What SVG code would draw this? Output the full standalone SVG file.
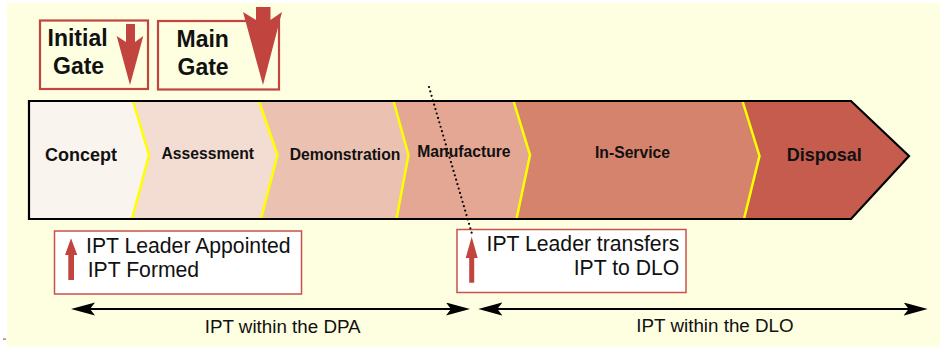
<svg xmlns="http://www.w3.org/2000/svg" width="940" height="347" viewBox="0 0 940 347">
  <defs>
    <style>
      .bold { font-family: "Liberation Sans", Arial, sans-serif; font-weight: bold; fill: #111; }
      .reg { font-family: "Liberation Sans", Arial, sans-serif; fill: #111; }
      .gatebox { fill: none; stroke: #c1443e; stroke-width: 2.2; }
      .notebox { fill: #ffffff; stroke: #c8524c; stroke-width: 1.5; }
      .red { fill: #c1443e; }
      .divider { fill: none; stroke: #ffff00; stroke-width: 2.5; }
      .span { stroke: #000; stroke-width: 2.2; fill: none; }
    </style>
    <marker id="head" markerUnits="userSpaceOnUse" markerWidth="26" markerHeight="14" refX="20" refY="6.5" orient="auto-start-reverse">
      <path d="M0,0 L24,6.5 L0,13 L5,6.5 Z" fill="#000"/>
    </marker>
  </defs>

  <!-- page -->
  <rect x="0" y="0" width="940" height="347" fill="#ffffff"/>
  <rect x="7" y="3" width="933" height="344" fill="#fefee0"/>
  <rect x="3" y="338.5" width="3" height="1.2" fill="#a55a55"/>

  <!-- gates -->
  <g id="initial-gate">
    <rect class="gatebox" x="40" y="20.5" width="108" height="68.5"/>
    <text class="bold" x="47.5" y="45.7" font-size="23">Initial</text>
    <text class="bold" x="53" y="74" font-size="23">Gate</text>
    <polygon class="red" points="126,24 135,24 135,42 143.3,36 130,85 116.7,36 126,42"/>
  </g>
  <g id="main-gate">
    <rect class="gatebox" x="158" y="21" width="121" height="68.5"/>
    <text class="bold" x="176.5" y="47.3" font-size="23">Main</text>
    <text class="bold" x="177.5" y="75" font-size="23">Gate</text>
    <polygon class="red" points="256,7 270.5,7 270.5,20 282,12 263,85 243,12 256,20"/>
  </g>

  <!-- lifecycle phases -->
  <g id="concept">
    <polygon points="29,101 133,101 149,155 132,219 29,219" fill="#faf4ef"/>
    <text class="bold" x="45" y="161" font-size="18">Concept</text>
  </g>
  <g id="assessment">
    <polygon points="133,101 259,101 277.5,155 261,219 132,219 149,155" fill="#f3dcd1"/>
    <text class="bold" x="161.5" y="159" font-size="15.7">Assessment</text>
  </g>
  <g id="demonstration">
    <polygon points="259,101 393.5,101 408.5,155 396.5,219 261,219 277.5,155" fill="#ebc2b1"/>
    <text class="bold" x="289.7" y="159.5" font-size="15.7">Demonstration</text>
  </g>
  <g id="manufacture">
    <polygon points="393.5,101 513.5,101 530,155 516.5,219 396.5,219 408.5,155" fill="#e3a794"/>
    <text class="bold" x="417.3" y="157.3" font-size="15.7">Manufacture</text>
  </g>
  <g id="in-service">
    <polygon points="513.5,101 742.5,101 759.5,156 744,219 516.5,219 530,155" fill="#d5836c"/>
    <text class="bold" x="595" y="158.3" font-size="15.7">In-Service</text>
  </g>
  <g id="disposal">
    <polygon points="742.5,101 851,101 909,156 851,219 744,219 759.5,156" fill="#c55c4e"/>
    <text class="bold" x="786.7" y="160.7" font-size="18">Disposal</text>
  </g>

  <!-- phase boundaries and outline -->
  <g id="phase-outline">
    <polyline class="divider" points="133,101 149,155 132,219"/>
    <polyline class="divider" points="259,101 277.5,155 261,219"/>
    <polyline class="divider" points="393.5,101 408.5,155 396.5,219"/>
    <polyline class="divider" points="513.5,101 530,155 516.5,219"/>
    <polyline class="divider" points="742.5,101 759.5,156 744,219"/>
    <polygon points="29,101 851,101 909,156 851,219 29,219" fill="none" stroke="#000" stroke-width="2.2" stroke-linejoin="miter"/>
  </g>

  <!-- milestone notes -->
  <g id="ipt-formed">
    <rect class="notebox" x="54.5" y="231" width="247" height="63"/>
    <polygon class="red" points="71,238.3 77.3,255 74,255 74,280 68.3,280 68.3,255 65,255"/>
    <text class="reg" x="86" y="252.7" font-size="21.2">IPT Leader Appointed</text>
    <text class="reg" x="87.7" y="277.3" font-size="21.2">IPT Formed</text>
  </g>
  <g id="ipt-transfer">
    <rect class="notebox" x="457" y="229.5" width="229" height="63"/>
    <polygon class="red" points="471.7,236.7 477.7,258 474.2,258 474.2,282.7 469.2,282.7 469.2,258 465.7,258"/>
    <text class="reg" x="679.3" y="250.7" font-size="21.2" text-anchor="end">IPT Leader transfers</text>
    <text class="reg" x="679.3" y="275" font-size="21.2" text-anchor="end">IPT to DLO</text>
  </g>

  <!-- connectors -->
  <g id="connectors">
    <line x1="429" y1="87" x2="472" y2="234" stroke="#000" stroke-width="2.2" stroke-linecap="round" stroke-dasharray="0 4.6"/>
    <line class="span" x1="75" y1="309" x2="466" y2="309" marker-start="url(#head)" marker-end="url(#head)"/>
    <line class="span" x1="482.3" y1="309" x2="923.7" y2="309" marker-start="url(#head)" marker-end="url(#head)"/>
    <text class="reg" x="282.7" y="333.3" font-size="18.8" text-anchor="middle">IPT within the DPA</text>
    <text class="reg" x="715" y="331.7" font-size="18.8" text-anchor="middle">IPT within the DLO</text>
  </g>
</svg>
